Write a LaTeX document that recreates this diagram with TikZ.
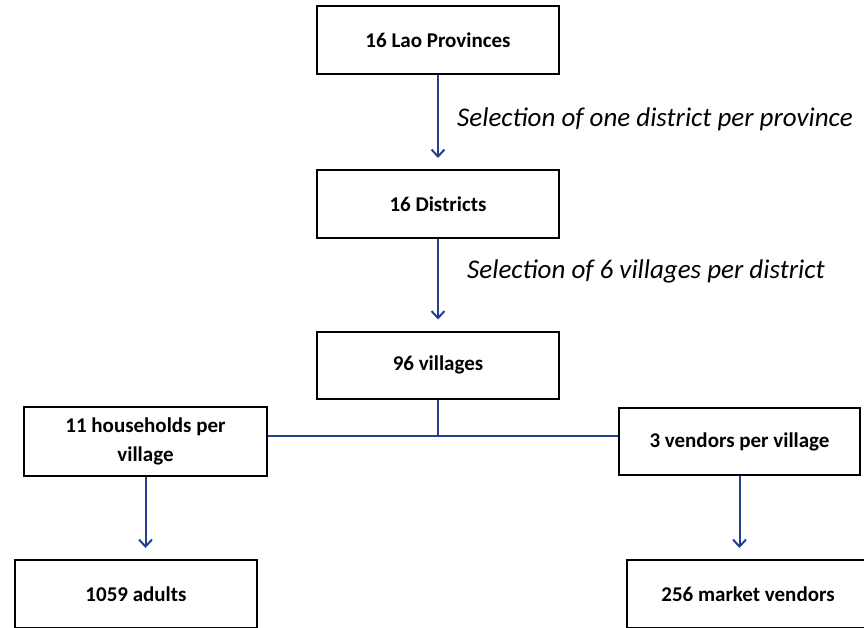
\documentclass[tikz,border=0pt]{standalone}
\usepackage{fontspec}
\setmainfont{Carlito}
\usetikzlibrary{arrows.meta}
\definecolor{arrowblue}{RGB}{36,64,142}
\newcommand*{\BoxW}{242}
\newcommand*{\BoxH}{68}

\begin{document}
\begin{tikzpicture}[x=1pt,y=-1pt,
    stagebox/.style={draw=black,line width=2pt,fill=white,minimum width=\BoxW pt,
      minimum height=\BoxH pt,inner sep=2pt,align=center,
      font=\fontsize{21}{29}\selectfont\bfseries},
    steplabel/.style={anchor=west,inner sep=0pt,font=\fontsize{27}{30}\selectfont\itshape},
    flow/.style={draw=arrowblue,line width=2pt,-{Straight Barb[length=7pt,width=13pt,line width=2pt]},
      shorten >=11pt},
    link/.style={draw=arrowblue,line width=2pt}]
        \useasboundingbox (0,0) rectangle (864,628);
        % main chain
        \node[stagebox] (prov) at (438,40) {16 Lao Provinces};
        \node[stagebox] (dist) at (438,204) {16 Districts};
        \node[stagebox,minimum height=67pt] (vill) at (438,365) {96 villages};
        % two branches
        \node[stagebox,minimum width=243pt,minimum height=69pt] (hh) at (145.5,441.5) {11 households per\\village};
        \node[stagebox,minimum width=241pt,minimum height=67pt] (vend) at (739.5,441.5) {3 vendors per village};
        \node[stagebox] (adult) at (136,594) {1059 adults};
        \node[stagebox] (mkt) at (748,594) {256 market vendors};
        % selection labels
        \node[steplabel] (selA) at (457,119) {Selection of one district per province};
        \node[steplabel] (selB) at (467,271) {Selection of 6 villages per district};
        \coordinate (split) at (438,436);
        \draw[flow] (prov) -- (dist);
        \draw[flow] (dist) -- (vill);
        \draw[link] (vill.south) -- (split);
        \draw[link] (hh.east |- split) -- (vend.west |- split);
        \draw[flow] (hh.south) -- (hh.south |- adult.north);
        \draw[flow] (vend.south) -- (vend.south |- mkt.north);
\end{tikzpicture}
\end{document}
